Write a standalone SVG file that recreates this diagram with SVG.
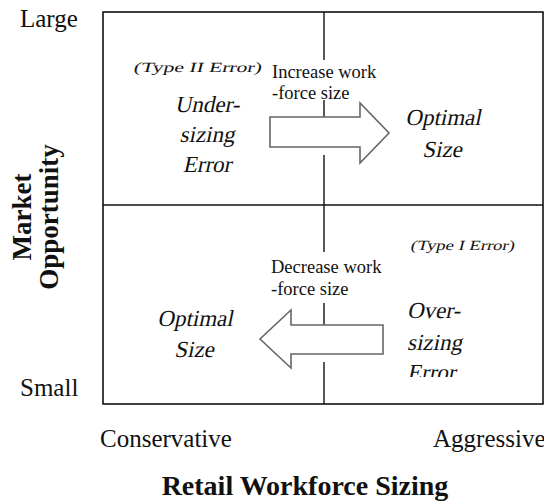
<svg xmlns="http://www.w3.org/2000/svg" width="544" height="504" viewBox="0 0 544 504">
<defs>
<style>
text{font-family:"Liberation Serif","Times New Roman",serif;fill:#111;}
.ax{font-size:25px;}
.ttl{font-size:27px;font-weight:bold;}
.bt{font-size:28px;font-weight:bold;}
.it{font-size:23px;text-anchor:middle;}
.its{font-size:23px;}
.err{font-size:14px;}
.act{font-size:18.5px;}
.frame{fill:none;stroke:#111;stroke-width:1.6;}
.div{stroke:#111;stroke-width:1.4;}
.arrow{fill:#fff;stroke:#666;stroke-width:1.6;}
</style>
<clipPath id="clipOver"><rect x="395" y="290" width="120" height="87"/></clipPath>
</defs>
<rect width="544" height="504" fill="#fff"/>
<g id="frame">
<rect class="frame" x="103" y="12" width="440" height="392"/>
<line class="div" x1="103" y1="205" x2="543" y2="205"/>
</g>
<g id="connectors">
<line class="div" x1="324" y1="12" x2="324" y2="60"/>
<line class="div" x1="324" y1="100" x2="324" y2="117"/>
<line class="div" x1="324" y1="155" x2="324" y2="252"/>
<line class="div" x1="324" y1="303" x2="324" y2="325"/>
<line class="div" x1="324" y1="362" x2="324" y2="404"/>
<polygon id="arrow-increase" class="arrow" points="270,117 360,117 360,103 389,133 360,163 360,147 270,147"/>
<polygon id="arrow-decrease" class="arrow" points="383,325 291,325 291,310 260,339 291,368 291,354 383,354"/>
</g>
<g id="axis-labels">
<text class="ax" x="20" y="27">Large</text>
<text class="ax" x="20" y="396">Small</text>
<text class="ax" x="100" y="447">Conservative</text>
<text class="ax" x="433" y="447">Aggressive</text>
<text class="bt" x="305" y="495" text-anchor="middle">Retail Workforce Sizing</text>
<text class="ttl" transform="translate(31,217) rotate(-90)" text-anchor="middle">Market</text>
<text class="ttl" transform="translate(58,217) rotate(-90)" text-anchor="middle">Opportunity</text>
</g>
<g id="node-undersizing">
<text class="err" transform="translate(133,72) skewX(-14)" textLength="128" lengthAdjust="spacingAndGlyphs">(Type II Error)</text>
<text class="it" transform="translate(207,112) skewX(-12)">Under-</text>
<text class="it" transform="translate(207,142) skewX(-12)">sizing</text>
<text class="it" transform="translate(207,172) skewX(-12)">Error</text>
</g>
<g id="node-increase">
<text class="act" x="272" y="78">Increase work</text>
<text class="act" x="272" y="99">-force size</text>
</g>
<g id="node-optimal-top">
<text class="it" transform="translate(443,125) skewX(-12)">Optimal</text>
<text class="it" transform="translate(442,157) skewX(-12)">Size</text>
</g>
<g id="node-oversizing">
<text class="err" transform="translate(410,250) skewX(-14)" textLength="104" lengthAdjust="spacingAndGlyphs">(Type I Error)</text>
<g clip-path="url(#clipOver)">
<text class="its" transform="translate(407,318) skewX(-12)">Over-</text>
<text class="its" transform="translate(407,350) skewX(-12)">sizing</text>
<text class="its" transform="translate(407,380) skewX(-12)">Error</text>
</g>
</g>
<g id="node-decrease">
<text class="act" x="271" y="273">Decrease work</text>
<text class="act" x="271" y="295">-force size</text>
</g>
<g id="node-optimal-bottom">
<text class="it" transform="translate(195,326) skewX(-12)">Optimal</text>
<text class="it" transform="translate(194,357) skewX(-12)">Size</text>
</g>
</svg>
